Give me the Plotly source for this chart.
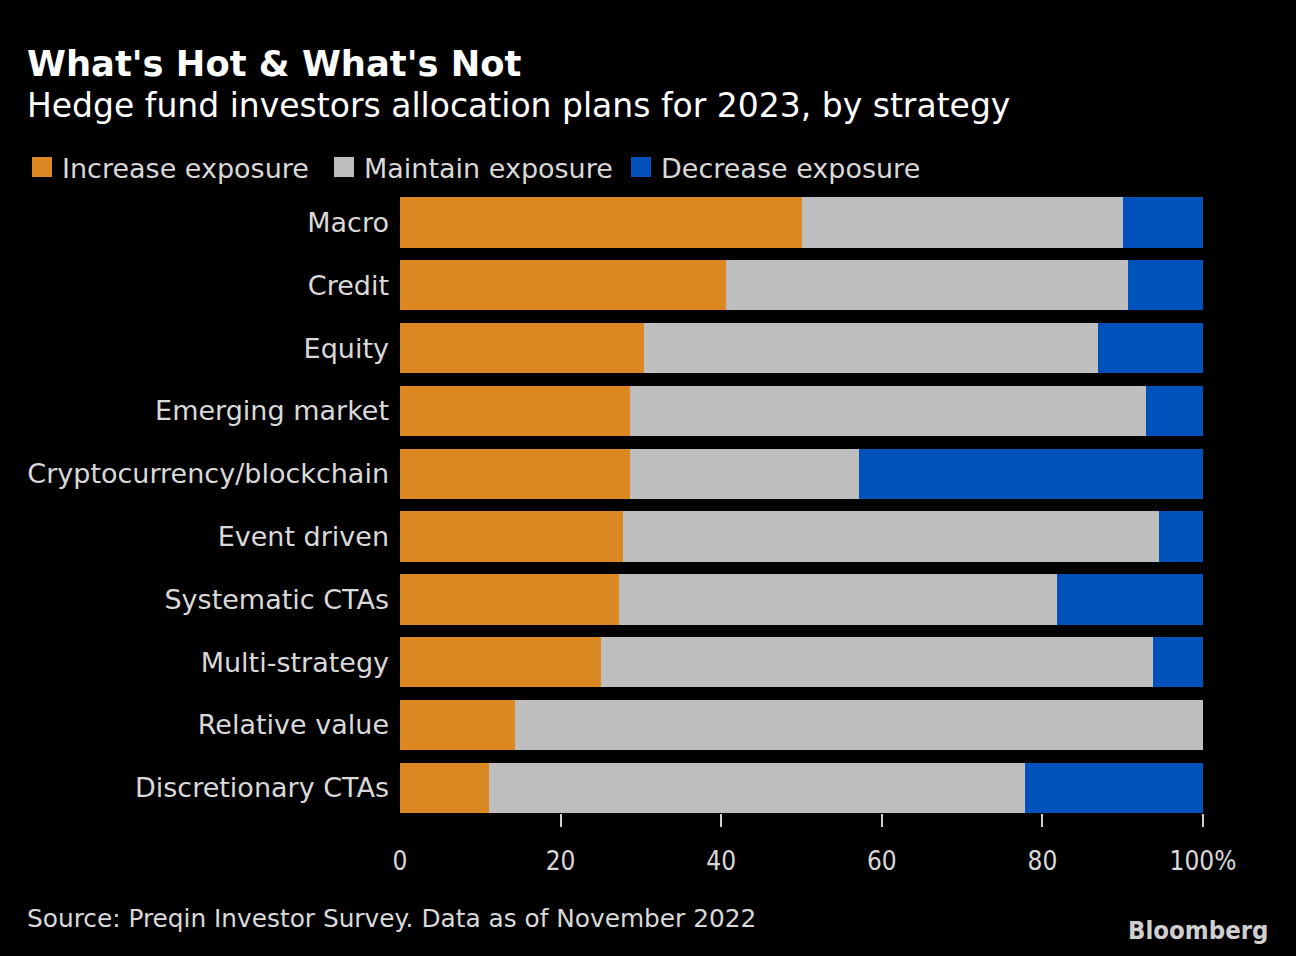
import plotly.graph_objects as go

categories = ["Macro", "Credit", "Equity", "Emerging market", "Cryptocurrency/blockchain",
              "Event driven", "Systematic CTAs", "Multi-strategy", "Relative value", "Discretionary CTAs"]
increase = [50.0, 40.6, 30.4, 28.6, 28.6, 27.8, 27.3, 25.0, 14.3, 11.1]
maintain = [40.0, 50.0, 56.5, 64.3, 28.6, 66.7, 54.5, 68.8, 85.7, 66.7]
decrease = [10.0, 9.4, 13.1, 7.1, 42.8, 5.5, 18.2, 6.2, 0.0, 22.2]
series_names = ["Increase exposure", "Maintain exposure", "Decrease exposure"]
colors = ["#DB8823", "#BEBEBE", "#0051BA"]
tick_vals = [0, 20, 40, 60, 80, 100]
tick_text = ["0", "20", "40", "60", "80", "100%"]

FONT = "DejaVu Sans, sans-serif"
FONT_C = "DejaVu Sans Condensed, DejaVu Sans, sans-serif"
TXT = "#D9D9D9"

fig = go.Figure()
for name, vals, col in zip(series_names, [increase, maintain, decrease], colors):
    fig.add_trace(go.Bar(y=categories, x=vals, name=name, orientation="h",
                         marker=dict(color=col, line=dict(width=0)), width=0.8,
                         showlegend=False, hoverinfo="x+name"))

# tick marks only (overlay axis)
fig.add_trace(go.Scatter(x=[0, 100], y=[categories[0], categories[0]], xaxis="x2",
                         mode="markers", marker=dict(opacity=0), showlegend=False, hoverinfo="skip"))

fig.update_layout(
    barmode="stack",
    width=1296, height=956,
    paper_bgcolor="#000000", plot_bgcolor="#000000",
    margin=dict(l=400, r=93, t=191, b=143),
    font=dict(family=FONT, color=TXT),
    xaxis=dict(range=[0, 100], tickvals=tick_vals, ticktext=tick_text, showgrid=False,
               zeroline=False, showline=False, ticks="", ticklabelstandoff=30,
               tickfont=dict(size=26, color=TXT, family=FONT_C), fixedrange=True),
    xaxis2=dict(range=[0, 100], overlaying="x", side="bottom", tickvals=tick_vals[1:],
                showticklabels=False, ticks="outside", ticklen=13, tickwidth=2,
                tickcolor="#D0D0D0", showgrid=False, zeroline=False, showline=False,
                fixedrange=True),
    yaxis=dict(categoryorder="array", categoryarray=categories, range=[9.4, -0.5],
               showgrid=False, zeroline=False, showline=False, ticks="", ticklabelstandoff=10,
               tickfont=dict(size=27, color=TXT, family=FONT), fixedrange=True),
)

# Titles
fig.add_annotation(text="<b>What's Hot & What's Not</b>", xref="paper", yref="paper",
                   x=-375/803, y=(813-63)/622, xanchor="left", yanchor="middle", showarrow=False,
                   font=dict(size=35.3, color="#FFFFFF", family=FONT))
fig.add_annotation(text="Hedge fund investors allocation plans for 2023, by strategy", xref="paper",
                   yref="paper", x=-375/803, y=(813-105)/622, xanchor="left", yanchor="middle",
                   showarrow=False, font=dict(size=33, color="#FFFFFF", family=FONT))

# Manual legend
leg_x = [32, 334, 631]
for lx, name, col in zip(leg_x, series_names, colors):
    fig.add_shape(type="rect", xref="paper", yref="paper",
                  x0=(lx - 400)/803, x1=(lx + 20 - 400)/803,
                  y0=(813-157)/622, y1=(813-177)/622, fillcolor=col, line=dict(width=0))
    fig.add_annotation(text=name, xref="paper", yref="paper", x=(lx + 28 - 400)/803,
                       y=(813-168)/622, xanchor="left", yanchor="middle", showarrow=False,
                       font=dict(size=27, color=TXT, family=FONT))

fig.add_annotation(text="Source: Preqin Investor Survey. Data as of November 2022", xref="paper",
                   yref="paper", x=-375/803, y=(813-918)/622, xanchor="left", yanchor="middle",
                   showarrow=False, font=dict(size=24.8, color=TXT, family=FONT))
fig.add_annotation(text="<b>Bloomberg</b>", xref="paper", yref="paper", x=(1271-400)/803,
                   y=(813-930)/622, xanchor="right", yanchor="middle", showarrow=False,
                   font=dict(size=25.5, color="#CFCFCF", family="Liberation Sans Narrow, DejaVu Sans Condensed, sans-serif"))

fig.write_html("out.html", config={"displayModeBar": False}, post_script=(
    "document.documentElement.style.background='#000';"
    "document.body.style.margin='0';document.body.style.background='#000';"
    "document.body.style.overflow='hidden';"))
